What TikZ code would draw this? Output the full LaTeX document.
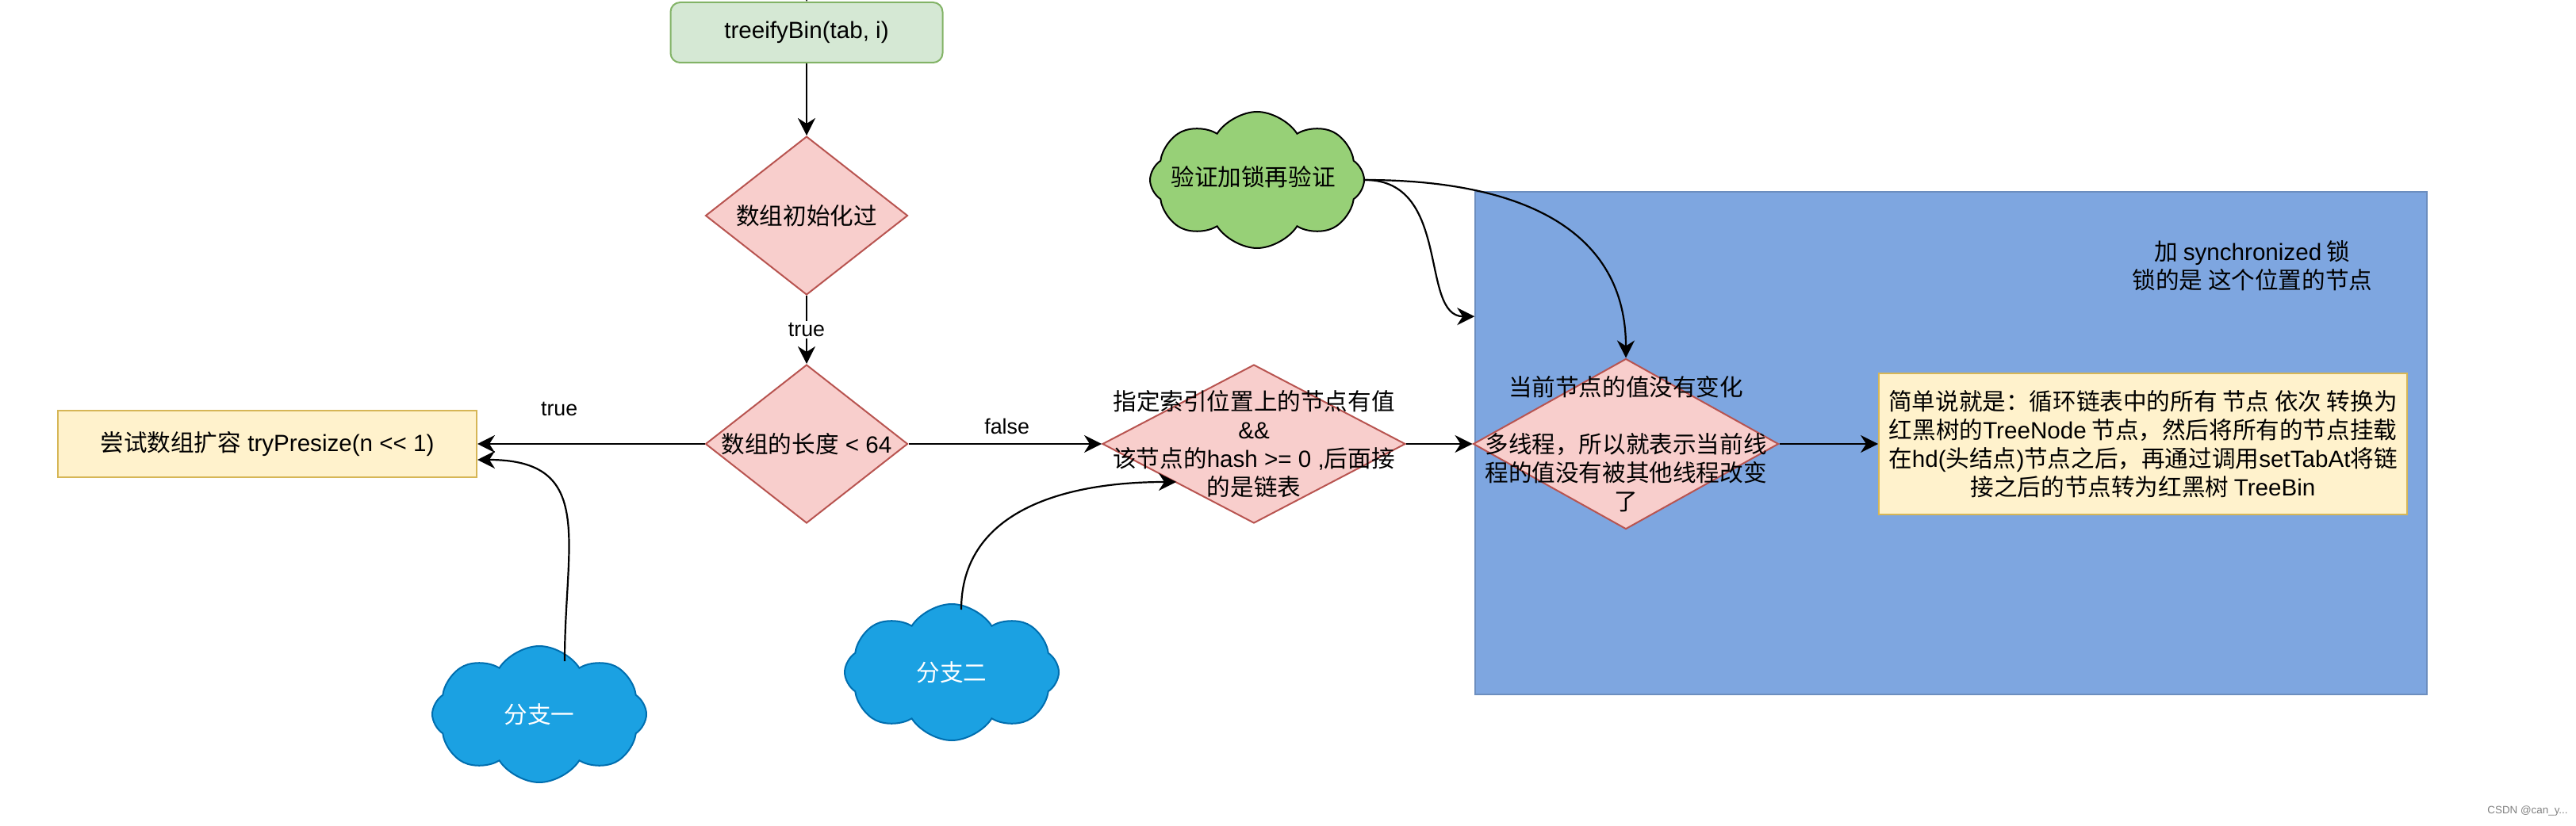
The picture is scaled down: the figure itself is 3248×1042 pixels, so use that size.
\documentclass[tikz,border=0pt]{standalone}
\usepackage{fontspec}
\setmainfont{Noto Sans CJK SC}
\newfontfamily\lat{Liberation Sans}
\usetikzlibrary{shapes.geometric,shapes.symbols,arrows.meta}

\definecolor{binfill}{HTML}{D5E8D4}
\definecolor{binline}{HTML}{82B366}
\definecolor{decfill}{HTML}{F8CECC}
\definecolor{decline}{HTML}{B85450}
\definecolor{boxfill}{HTML}{FFF2CC}
\definecolor{boxline}{HTML}{D6B656}
\definecolor{lockfill}{HTML}{7EA6E0}
\definecolor{lockline}{HTML}{6C8EBF}
\definecolor{branchfill}{HTML}{1BA1E2}
\definecolor{branchline}{HTML}{006EAF}
\definecolor{verifyfill}{HTML}{97D077}

\begin{document}
\begin{tikzpicture}[
			x=0.5pt, y=-0.5pt,
			every node/.style={
					font=\fontsize{14.8}{18}\selectfont,
					align=center
				},
			procbox/.style={draw, line width=1pt, inner sep=0pt},
			decision/.style={diamond, draw=decline, fill=decfill, line width=1pt, inner sep=0pt},
			puff/.style={cloud, cloud puffs=8, cloud puff arc=115, aspect=1.6, inner sep=0pt,
					minimum width=135pt, minimum height=86pt, line width=1pt},
			arr/.style={-{Stealth[length=11pt,width=11pt,inset=3.5pt]}, line width=1.1pt},
			lbl/.style={font=\lat\fontsize{13.4}{16}\selectfont, fill=white, inner sep=1pt}
		]

		\useasboundingbox (0,0) rectangle (3248,1042);
		\clip (0,0) rectangle (3248,1042);

		\node[draw=lockline, fill=lockfill, line width=0.8pt, minimum width=600pt,
			minimum height=317pt, inner sep=0pt] (lock) at (2460,559) {};
		\node (locktxt) at (2840,335) {加 {\lat synchronized} 锁\\锁的是 这个位置的节点};

		\node[procbox, draw=binline, fill=binfill, rounded corners=6pt,
			minimum width=171.5pt, minimum height=38pt] (bin) at (1017,41)
		{{\lat treeifyBin(tab, i)}};

		\node[decision, minimum width=127.5pt, minimum height=100pt] (inited) at (1017,272) {};
		\node (initedtxt) at (inited) {数组初始化过};

		\node[decision, minimum width=127.5pt, minimum height=100pt] (small) at (1017,560) {};
		\node (smalltxt) at (small) {数组的长度{\lat\ < 64}};

		\node[procbox, draw=boxline, fill=boxfill, minimum width=264pt,
			minimum height=42pt] (resize) at (337,560)
		{尝试数组扩容{\lat\ tryPresize(n << 1)}};

		\node[decision, minimum width=191pt, minimum height=100pt] (linked) at (1581,560) {};
		\node (linkedtxt) at (linked)
		{指定索引位置上的节点有值\\{\lat \&\&}\\该节点的{\lat hash >= 0 ,}后面接\\的是链表};

		\node[decision, minimum width=192.5pt, minimum height=107.5pt] (same) at (2050,560) {};
		\node (sametxt) at (same)
		{当前节点的值没有变化\\[18pt]多线程，所以就表示当前线\\程的值没有被其他线程改变\\了};

		\node[procbox, draw=boxline, fill=boxfill, minimum width=333pt,
			minimum height=89pt] (convert) at (2702,560)
		{简单说就是：循环链表中的所有 节点 依次 转换为\\红黑树的{\lat TreeNode} 节点，然后将所有的节点挂载\\在{\lat hd(}头结点{\lat )}节点之后，再通过调用{\lat setTabAt}将链\\接之后的节点转为红黑树 {\lat TreeBin}};

		\node[puff, draw=branchline, fill=branchfill] (branch1) at (680,901) {};
		\node[text=white] (branch1txt) at (branch1) {分支一};

		\node[puff, draw=branchline, fill=branchfill] (branch2) at (1200,848) {};
		\node[text=white] (branch2txt) at (branch2) {分支二};

		\node[puff, draw=black, fill=verifyfill] (verify) at (1585,227) {};
		\node (verifytxt) at (1580,223) {验证加锁再验证};

		\node[text=gray, font=\lat\fontsize{6.7}{8}\selectfont] (mark) at (3187,1023) {CSDN @can\_y...};

		\coordinate (entry) at (1017,-40);

		\draw[arr] (entry)--(bin);
		\draw[arr] (bin)--(inited);
		\draw[arr] (inited)-- node[lbl] {true} (small);
		\draw[arr] (small)-- node[lbl, pos=0.64, yshift=22pt] {true} (resize);
		\draw[arr] (small)-- node[lbl, pos=0.51, yshift=11pt] {false} (linked);
		\draw[arr] (linked)--(same);
		\draw[arr] (same)--(convert);

		\draw[arr] ([xshift=16pt,yshift=-10pt]branch1.north)
		.. controls +(0,-150) and +(150,0) .. ([yshift=-10pt]resize.east);
		\draw[arr] ([xshift=6pt,yshift=-4pt]branch2.north)
		.. controls +(0,-120) and +(-150,0) .. ([xshift=-49pt,yshift=-24pt]linked.center);
		\draw[arr] (verify.east)
		.. controls +(110,0) and +(-70,0) .. ([yshift=-79pt]lock.north west);
		\draw[arr] (verify.east)
		.. controls +(200,0) and +(0,-160) .. (same.north);

	\end{tikzpicture}
\end{document}
